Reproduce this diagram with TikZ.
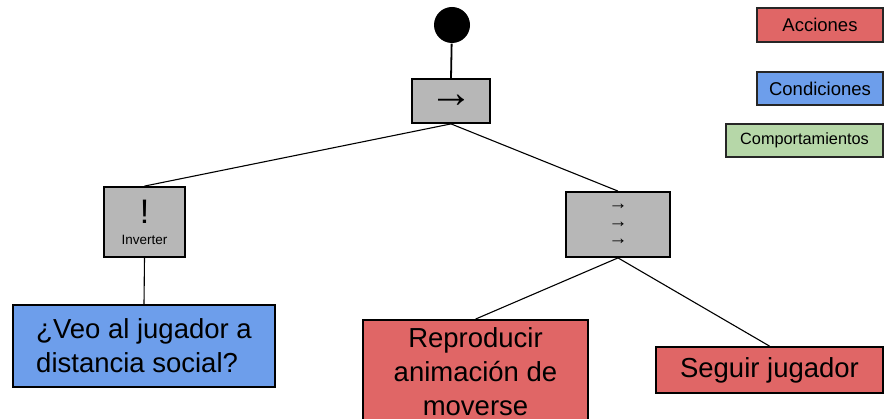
\documentclass[tikz,border=0pt]{standalone}
\usepackage{fontspec}
\setmainfont{Liberation Sans}
\definecolor{accion}{HTML}{E06666}
\definecolor{condicion}{HTML}{6D9EEB}
\definecolor{comport}{HTML}{B6D7A8}
\definecolor{nodogris}{HTML}{B7B7B7}
\tikzset{
  control/.style={draw,line width=1.8pt,fill=nodogris,inner sep=0pt},
  hoja/.style={draw,line width=1.8pt,inner sep=0pt,font=\fontsize{27.5}{34}\selectfont},
  leyenda/.style={draw=black!85,line width=1.4pt,inner sep=0pt,font=\fontsize{18.5}{20}\selectfont}
}
\begin{document}
\begin{tikzpicture}[x=1pt,y=-1pt,line width=1.1pt]
    \clip (0,0) rectangle (885,419);
    \node[circle,fill=black,inner sep=0pt,minimum size=36pt] (inicio) at (452,25) {};
    \node[control,minimum width=78pt,minimum height=44pt,
      font=\fontsize{44}{44}\selectfont] (sec) at (451,101) {→};
    \node[control,minimum width=81pt,minimum height=70pt,align=center,
      font=\fontsize{13.5}{21}\selectfont] (inv) at (144.5,222)
      {{\fontsize{34}{34}\selectfont !}\\Inverter};
    \node[control,minimum width=104pt,minimum height=65pt,align=center,
      font=\fontsize{19}{17.5}\selectfont] (par) at (618,224.5)
      {→\\→\\→};
    \node[hoja,fill=condicion,minimum width=262pt,minimum height=82pt,align=left] (veo) at (144,346)
      {¿Veo al jugador a\\distancia social?};
    \node[hoja,fill=accion,minimum width=225pt,minimum height=104pt,align=center] (anim) at (475.5,372)
      {Reproducir\\animación de\\moverse};
    \node[hoja,fill=accion,minimum width=227pt,minimum height=46pt] (seguir) at (769.5,370)
      {Seguir jugador};
    % leyenda
    \node[leyenda,fill=accion,minimum width=126pt,minimum height=34pt] (acc) at (820,25) {Acciones};
    \node[leyenda,fill=condicion,minimum width=126pt,minimum height=33pt] (cond) at (820,88.5) {Condiciones};
    \node[leyenda,fill=comport,minimum width=157pt,minimum height=33pt,font=\fontsize{16.3}{18}\selectfont] (comp) at (804.5,140.5) {Comportamientos};
    % conexiones
    \path[line width=1.8pt] (inicio) edge (sec.north);
    \path (sec.south) edge (inv.north);
    \path (sec.south) edge (par.north);
    \path (inv.south) edge (veo.north);
    \path (par.south) edge (anim.north);
    \path (par.south) edge (seguir.north);
  \end{tikzpicture}
\end{document}
